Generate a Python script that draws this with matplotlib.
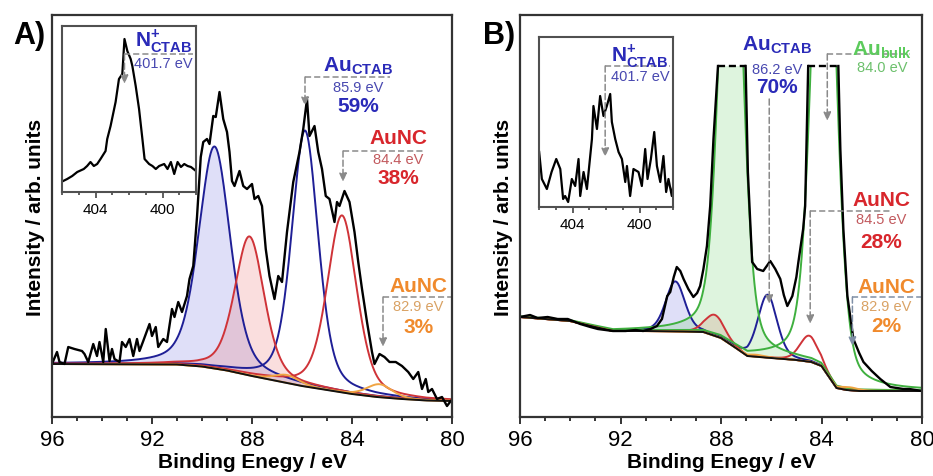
import numpy as np
import matplotlib
matplotlib.use("Agg")
import matplotlib.pyplot as plt
from matplotlib.patches import Rectangle

plt.rcParams['font.family'] = ['Liberation Sans', 'DejaVu Sans']
plt.rcParams['mathtext.fontset'] = 'custom'
plt.rcParams['mathtext.rm'] = 'Liberation Sans'
plt.rcParams['mathtext.bf'] = 'Liberation Sans:bold'

# ---------------- panel A : Au 4f, measured spectrum (arb. units)
energy_a = [96.0, 95.8, 95.7, 95.5, 95.35, 95.1, 94.8, 94.7, 94.55, 94.35, 94.2, 94.1,
            93.95, 93.85, 93.7, 93.6, 93.5, 93.3, 93.2, 93.05, 92.9, 92.75, 92.6, 92.5,
            92.35, 92.1, 92.0, 91.85, 91.75, 91.55, 91.4, 91.2, 91.1, 90.95, 90.8, 90.6,
            90.5, 90.35, 90.2, 90.05, 89.95, 89.8, 89.7, 89.55, 89.45, 89.3, 89.15, 89.0,
            88.9, 88.8, 88.7, 88.5, 88.35, 88.2, 88.0, 87.9, 87.75, 87.6, 87.45, 87.3,
            87.1, 86.95, 86.8, 86.6, 86.35, 86.1, 85.95, 85.8, 85.7, 85.5, 85.35, 85.2,
            85.05, 84.9, 84.7, 84.6, 84.5, 84.3, 84.1, 83.9, 83.75, 83.6, 83.4, 83.2,
            83.1, 82.9, 82.7, 82.5, 82.25, 82.0, 81.75, 81.55, 81.35, 81.2, 81.05, 80.95,
            80.8, 80.6, 80.4, 80.2, 80.05]
counts_a = [53, 65, 55, 53, 70, 68, 66, 63, 55, 73, 61, 75,
            55, 88, 56, 68, 58, 55, 75, 70, 78, 61, 78, 66,
            76, 93, 81, 90, 70, 78, 75, 108, 100, 115, 105, 121,
            138, 151, 200, 260, 275, 278, 273, 301, 300, 325, 298, 285,
            265, 236, 231, 246, 231, 228, 233, 218, 221, 211, 168, 141,
            118, 141, 135, 185, 235, 265, 288, 318, 281, 291, 265, 248,
            221, 218, 195, 215, 211, 226, 215, 185, 155, 128, 95, 65,
            53, 63, 60, 55, 55, 51, 45, 38, 45, 28, 38, 25,
            28, 18, 20, 11, 16]
bg_energy_a = [96.0, 91.0, 90.0, 89.0, 88.0, 87.0, 86.0, 85.0, 84.0, 83.0, 82.0, 81.0, 80.0]
bg_a = [53, 52.5, 50.5, 46.5, 41, 36, 31, 27, 23, 20, 18, 16.5, 16]

# fit components A: Au_CTAB (blue), AuNC (red), AuNC (orange), 4f5/2 and 4f7/2
comp_a_centre = [89.5, 85.88, 88.1, 84.4, 86.6, 82.9]
comp_a_height = [222, 256, 139, 177, 8, 13]
comp_a_fwhm = [1.5, 1.25, 1.4, 1.4, 1.2, 1.2]
comp_a_kind = ['blue', 'blue', 'red', 'red', 'orange', 'orange']
comp_a_filled = [True, False, True, False, False, False]

# N 1s inset A
n_energy_a = [405.93, 405.69, 405.39, 405.09, 404.7, 404.5, 404.3, 404.1, 403.9, 403.7,
              403.4, 403.3, 403.1, 402.8, 402.6, 402.4, 402.27, 402.1, 401.9, 401.8,
              401.6, 401.4, 401.2, 401.07, 400.8, 400.6, 400.4, 400.2, 399.9, 399.7,
              399.5, 399.3, 399.1, 398.9, 398.7, 398.5, 398.3, 398.0]
n_counts_a = [11, 13, 16, 20, 23, 26, 30, 26, 28, 33,
              41, 53, 66, 90, 113, 118, 153, 141, 133, 126,
              106, 83, 53, 33, 28, 26, 23, 26, 28, 23,
              30, 18, 30, 25, 28, 26, 25, 21]

# ---------------- panel B
energy_b = [96.0, 95.6, 95.3, 94.9, 94.5, 94.1, 93.6, 93.2, 92.9, 92.3, 91.8, 91.4,
            91.1, 90.8, 90.55, 90.35, 90.14, 90.02, 89.88, 89.76, 89.62, 89.49, 89.3,
            89.1, 88.95, 88.83, 88.7, 88.56, 88.43, 88.3, 88.12, 87.02, 86.93, 86.76,
            86.56, 86.32, 86.15, 86.04, 85.84, 85.64, 85.5, 85.36, 85.16, 85.0, 84.92,
            84.73, 84.65, 84.53, 83.33, 83.25, 83.13, 82.97, 82.73, 82.5, 82.33, 82.0,
            81.66, 81.26, 81.0, 80.74, 80.5, 80.25, 80.0]
counts_b = [100, 102, 99, 100, 98, 98, 93, 90, 88, 86, 86, 87,
            86, 88, 91, 98, 121, 125, 140, 150, 146, 138, 128,
            120, 124, 131, 148, 171, 211, 278, 351, 351, 245, 155,
            148, 146, 152, 156, 148, 138, 122, 111, 121, 140, 155,
            188, 211, 351, 351, 268, 188, 121, 78, 64, 55, 46,
            38, 30, 29, 28, 28, 27, 26]
cut_b = 351  # spectrum shown cut off at this intensity
bg_energy_b = [96.0, 95.0, 94.0, 93.0, 92.3, 91.0, 89.5, 88.7, 88.0, 87.35, 86.95,
               86.0, 85.0, 84.4, 84.0, 83.7, 83.4, 83.0, 82.5, 80.0]
bg_b = [100, 98, 96, 90, 86, 86, 85.5, 85, 79, 68, 61,
        59, 57, 55, 51, 40, 29, 27, 26, 26]

comp_b_centre = [89.82, 86.15, 88.25, 84.5, 87.6, 83.9, 86.6, 82.9]
comp_b_height = [50, 63, 21, 26, 560, 600, 2, 3]
comp_b_fwhm = [0.9, 0.9, 0.9, 0.85, 1.0, 1.05, 0.9, 0.9]
comp_b_kind = ['blue', 'blue', 'red', 'red', 'green', 'green', 'orange', 'orange']
comp_b_filled = [True, False, True, False, True, False, False, False]

n_energy_b = [405.99, 405.83, 405.53, 405.25, 404.97, 404.73, 404.56, 404.44, 404.26,
              404.04, 403.84, 403.64, 403.54, 403.34, 403.14, 402.84, 402.75, 402.54,
              402.35, 402.15, 401.95, 401.75, 401.65, 401.45, 401.25, 401.05, 400.85,
              400.75, 400.56, 400.36, 400.06, 399.86, 399.66, 399.52, 399.32, 399.12,
              398.96, 398.76, 398.57, 398.41, 398.27, 398.07, 397.99]
n_counts_b = [55, 28, 18, 35, 48, 38, 8, 11, 5,
              28, 21, 48, 11, 35, 18, 68, 101, 78,
              111, 91, 101, 113, 85, 68, 55, 48, 25,
              41, 11, 38, 35, 21, 58, 28, 48, 75,
              41, 25, 51, 15, 28, 11, 21]

LINE = {'blue': '#1f1f96', 'red': '#cf3338', 'orange': '#f0a443', 'green': '#3fb03f'}
FILL = {'blue': '#7070e0', 'red': '#ec6a6a', 'orange': '#f0a443', 'green': '#6acd6a'}
TXT = {'blue': '#2a2ab8', 'red': '#d8262c', 'orange': '#f08a2c', 'green': '#5ccb5c'}
EV = {'blue': '#4848b0', 'red': '#c25a5e', 'orange': '#d9a264', 'green': '#6cc06c'}
GREY = '#8a8a8a'


def pvoigt(e, centre, height, fwhm, eta):
    x = (e - centre) / (fwhm / 2.0)
    return height * ((1 - eta) * np.exp(-np.log(2) * x ** 2) + eta / (1 + x ** 2))


def main_axes(fig, rect):
    ax = fig.add_axes(rect)
    ax.set_xlim(96, 80)
    ax.set_ylim(0, 402)
    ax.set_xticks([96, 92, 88, 84, 80])
    ax.set_xticks(np.arange(80, 97, 1), minor=True)
    ax.set_yticks([])
    ax.tick_params(axis='x', which='both', direction='out', width=1.4,
                   color='#333333', labelsize=16, pad=4)
    ax.tick_params(axis='x', which='major', length=5)
    ax.tick_params(axis='x', which='minor', length=3)
    for s in ax.spines.values():
        s.set_linewidth(1.6)
        s.set_color('#333333')
    ax.set_xlabel('Binding Enegy / eV', fontsize=15, fontweight='bold', labelpad=1)
    ax.set_ylabel('Intensity / arb. units', fontsize=15, fontweight='bold', labelpad=5)
    return ax


def draw_components(ax, bg_e, bg_y, centres, heights, fwhms, kinds, filled, eta, clip=None):
    grid = np.linspace(80, 96, 1601)
    base = np.interp(grid, np.array(bg_e)[::-1], np.array(bg_y)[::-1])
    artists = []
    for c, h, w, k, f in zip(centres, heights, fwhms, kinds, filled):
        top = base + pvoigt(grid, c, h, w, eta)
        if f:
            artists.append(ax.fill_between(grid, base, top, color=FILL[k], alpha=0.22, lw=0))
    for c, h, w, k, f in zip(centres, heights, fwhms, kinds, filled):
        top = base + pvoigt(grid, c, h, w, eta)
        line, = ax.plot(grid, top, color=LINE[k], lw=1.4)
        artists.append(line)
    if clip is not None:
        rect = Rectangle((80, 0), 16, clip, transform=ax.transData)
        for a in artists:
            a.set_clip_path(rect)
    ax.plot(bg_e, bg_y, color='#111111', lw=1.4)


def draw_spectrum(ax, e, y, cut=None):
    e = np.asarray(e)
    y = np.asarray(y)
    kw = dict(color='black', lw=1.7, solid_joinstyle='round')
    if cut is None:
        ax.plot(e, y, **kw)
        return
    flat = np.where((y[:-1] >= cut) & (y[1:] >= cut))[0]
    start = 0
    for i in flat:
        ax.plot(e[start:i + 1], y[start:i + 1], **kw)
        ax.plot(e[i:i + 2], y[i:i + 2], color='black', lw=1.7, ls=(0, (3, 1.6)))
        start = i + 1
    ax.plot(e[start:], y[start:], **kw)


def callout(ax, x, y_tip, y_top, x_end=None, color=GREY):
    if x_end is not None:
        ax.plot([x, x_end], [y_top, y_top], color=color, lw=1.1, ls=(0, (4, 2)))
    ax.annotate('', xy=(x, y_tip), xytext=(x, y_top),
                arrowprops=dict(arrowstyle='-|>,head_length=0.5,head_width=0.22',
                                color=color, lw=1.1, ls=(0, (4, 2)),
                                shrinkA=0, shrinkB=0))


def label(ax, x, ys, name, ev, pct, kind):
    if name:
        ax.text(x, ys[0], name, color=TXT[kind], fontsize=15, fontweight='bold',
                ha='center', va='center')
    if ev:
        ax.text(x, ys[1], ev, color=EV[kind], fontsize=10.5, ha='center', va='center')
    if pct:
        ax.text(x, ys[2], pct, color=TXT[kind], fontsize=15, fontweight='bold',
                ha='center', va='center')


def inset(fig, rect, e, y, ytop):
    ax = fig.add_axes(rect)
    ax.plot(e, y, color='black', lw=1.6)
    ax.set_xlim(406, 398)
    ax.set_ylim(0, ytop)
    ax.set_xticks([404, 400])
    ax.set_xticks(np.arange(398, 407, 1), minor=True)
    ax.set_yticks([])
    ax.tick_params(axis='x', which='both', direction='out', width=1.2,
                   color='#444444', labelsize=11, pad=3)
    ax.tick_params(axis='x', which='major', length=4.5)
    ax.tick_params(axis='x', which='minor', length=2.5)
    for s in ax.spines.values():
        s.set_linewidth(1.5)
        s.set_color('#505050')
    return ax


AU_CTAB = r'$\mathbf{Au}_{\mathbf{CTAB}}$'
AU_BULK = r'$\mathbf{Au}_{\mathbf{bulk}}$'
N_CTAB = r'$\mathbf{N}^{\mathbf{+}}_{\mathbf{CTAB}}$'

fig = plt.figure(figsize=(9.33, 4.77), dpi=100)

# ---- A
ax_a = main_axes(fig, [52 / 933, 59 / 477, 400 / 933, 402 / 477])
draw_components(ax_a, bg_energy_a, bg_a, comp_a_centre, comp_a_height, comp_a_fwhm,
                comp_a_kind, comp_a_filled, 0.4)
draw_spectrum(ax_a, energy_a, counts_a)
callout(ax_a, 85.88, 311, 340, 82.48)
label(ax_a, 83.76, (352, 330, 311), AU_CTAB, '85.9 eV', '59%', 'blue')
callout(ax_a, 84.36, 235, 266, 81.08)
label(ax_a, 82.14, (279, 258, 239), 'AuNC', '84.4 eV', '38%', 'red')
callout(ax_a, 82.76, 70, 120, 80.0)
label(ax_a, 81.35, (131, 111, 90), 'AuNC', '82.9 eV', '3%', 'orange')

ins_a = inset(fig, [62 / 933, 284 / 477, 134 / 933, 166 / 477], n_energy_a, n_counts_a, 166)
callout(ins_a, 402.27, 108, 138, 398.15)
ins_a.text(399.94, 152, N_CTAB, color=TXT['blue'], fontsize=15, ha='center', va='center')
ins_a.text(399.94, 129, '401.7 eV', color=EV['blue'], fontsize=10.5, ha='center', va='center')

# ---- B
ax_b = main_axes(fig, [520 / 933, 59 / 477, 402 / 933, 402 / 477])
draw_components(ax_b, bg_energy_b, bg_b, comp_b_centre, comp_b_height, comp_b_fwhm,
                comp_b_kind, comp_b_filled, 0.3, clip=cut_b)
draw_spectrum(ax_b, energy_b, counts_b, cut=cut_b)
callout(ax_b, 86.08, 113, 318)
label(ax_b, 85.76, (373, 348, 330), AU_CTAB, '86.2 eV', '70%', 'blue')
callout(ax_b, 83.77, 296, 363, 80.46)
label(ax_b, 81.58, (368, 350, None), AU_BULK, '84.0 eV', '', 'green')
callout(ax_b, 84.45, 93, 206, 81.26)
label(ax_b, 81.62, (217, 198, 175), 'AuNC', '84.5 eV', '28%', 'red')
callout(ax_b, 82.77, 71, 120, 80.0, color='#7f8fa6')
label(ax_b, 81.42, (130, 111, 91), 'AuNC', '82.9 eV', '2%', 'orange')

ins_b = inset(fig, [539 / 933, 269 / 477, 134 / 933, 170 / 477], n_energy_b, n_counts_b, 170)
callout(ins_b, 402.05, 50, 141, 398.17)
ins_b.text(400.02, 152, N_CTAB, color=TXT['blue'], fontsize=15, ha='center', va='center')
ins_b.text(399.96, 131, '401.7 eV', color=EV['blue'], fontsize=10.5, ha='center', va='center')

fig.text(13 / 933, 1 - 36 / 477, 'A)', fontsize=22, fontweight='bold', ha='left', va='center')
fig.text(483 / 933, 1 - 36 / 477, 'B)', fontsize=22, fontweight='bold', ha='left', va='center')

fig.savefig('out.png', dpi=100)
